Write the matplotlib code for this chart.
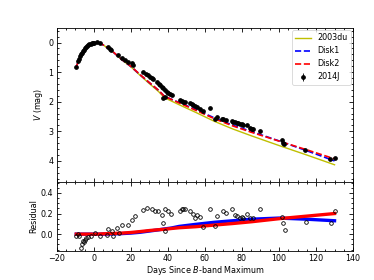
import matplotlib
matplotlib.use("Agg")
import matplotlib.pyplot as plt
from matplotlib.ticker import AutoMinorLocator, MultipleLocator

# ---- data ----
model_days = [-9.5, -8, -6, -4, -2, 0, 2, 5, 10, 15, 20, 25, 30, 35, 38, 42, 46, 55, 65, 75, 85, 100, 115, 130]
mag_2003du = [0.82, 0.58, 0.35, 0.17, 0.05, 0.0, 0.01, 0.08, 0.30, 0.58, 0.82, 1.11, 1.39, 1.66, 1.86, 1.98, 2.10,
              2.36, 2.66, 2.92, 3.15, 3.48, 3.80, 4.13]
mag_disk1 = [0.82, 0.58, 0.35, 0.17, 0.05, 0.0, 0.01, 0.08, 0.298, 0.575, 0.81, 1.092, 1.36, 1.618, 1.81, 1.92,
             2.025, 2.265, 2.545, 2.79, 3.005, 3.324, 3.655, 4.0]
mag_disk2 = [0.82, 0.58, 0.35, 0.17, 0.05, 0.0, 0.01, 0.077, 0.294, 0.57, 0.804, 1.085, 1.355, 1.617, 1.813, 1.925,
             2.038, 2.288, 2.572, 2.817, 3.03, 3.33, 3.625, 3.93]
res_disk1 = [0, 0, 0, 0, 0, 0, 0, 0.0, 0.002, 0.005, 0.01, 0.018, 0.03, 0.042, 0.05, 0.06, 0.075, 0.095, 0.115,
             0.13, 0.145, 0.156, 0.145, 0.13]
res_disk2 = [0, 0, 0, 0, 0, 0, 0, 0.003, 0.006, 0.01, 0.016, 0.025, 0.035, 0.043, 0.047, 0.055, 0.062, 0.072,
             0.088, 0.103, 0.12, 0.15, 0.175, 0.20]

obs_days = [-9.4, -8.6, -8.2, -7.6, -7.0, -6.6, -6.0, -5.4, -4.9, -4.3, -3.6, -3.1, -2.4, -1.8, -1.2, -0.5, 0.3, 1.5, 3.2,
            7.7, 8.6, 9.5, 13.1, 15.0, 17.0, 18.5, 20.4, 21.2, 26.6, 28.0, 29.4, 30.3, 31.2, 32.0, 33.9, 35.0, 35.7,
            36.6, 37.5, 38.4, 39.3, 40.2, 41.0, 42.0, 38.4, 37.5, 46.5, 47.4, 48.3, 49.2, 52.0, 52.8, 53.8, 54.6,
            55.5, 57.3, 58.8, 62.7, 65.4, 66.3, 69.0, 69.9, 71.4, 74.8, 75.3, 76.2, 77.1, 78.0, 78.9, 79.8, 80.7,
            82.5, 84.3, 85.2, 86.1, 89.7, 101.5, 102.3, 102.8, 114.0, 127.6, 130.3]
obs_mag = [0.82, 0.62, 0.55, 0.47, 0.40, 0.36, 0.30, 0.24, 0.20, 0.15, 0.11, 0.09, 0.06, 0.04, 0.03, 0.01, 0.00, -0.02, 0.03,
           0.15, 0.21, 0.25, 0.42, 0.52, 0.58, 0.65, 0.70, 0.76, 0.99, 1.05, 1.10, 1.15, 1.21, 1.24, 1.33, 1.40, 1.44,
           1.50, 1.55, 1.62, 1.66, 1.72, 1.75, 1.77, 1.85, 1.88, 1.94, 1.97, 2.00, 2.02, 2.04, 2.07, 2.10, 2.14,
           2.17, 2.26, 2.30, 2.22, 2.58, 2.50, 2.59, 2.58, 2.62, 2.66, 2.67, 2.70, 2.72, 2.73, 2.76, 2.76, 2.78,
           2.80, 2.90, 2.91, 2.93, 3.00, 3.28, 3.38, 3.44, 3.62, 3.93, 3.90]
obs_err = [0.02] * len(obs_days)

res_days = [-9.7, -8.5, -7.9, -7.2, -6.6, -5.8, -5.3, -4.9, -4.0, -3.1, -1.3, 0.5, 3.2, 6.9, 7.7, 9.6, 10.4, 12.3,
            13.7, 15.0, 18.5, 20.4, 22.2, 26.7, 28.5, 31.2, 33.0, 34.8, 36.6, 37.5, 38.4, 38.4, 40.2, 41.5, 46.5,
            47.4, 48.3, 49.2, 52.0, 53.8, 54.6, 55.5, 57.3, 58.8, 62.7, 65.4, 66.3, 69.5, 71.4, 74.8, 76.2, 77.1,
            78.9, 79.8, 80.7, 82.5, 84.3, 86.1, 89.7, 101.5, 102.3, 103.3, 114.6, 127.9, 130.3]
res_val = [-0.02, 0.00, -0.02, -0.13, -0.10, -0.07, -0.08, -0.06, -0.04, -0.03, -0.02, 0.01, -0.02, -0.01, 0.05, 0.03,
           -0.02, 0.06, 0.01, 0.09, 0.09, 0.14, 0.18, 0.23, 0.25, 0.24, 0.22, 0.22, 0.19, 0.11, 0.24, 0.03, 0.22,
           0.20, 0.22, 0.24, 0.24, 0.24, 0.22, 0.20, 0.16, 0.19, 0.17, 0.07, 0.24, 0.08, 0.18, 0.22, 0.21, 0.24,
           0.19, 0.18, 0.16, 0.17, 0.16, 0.20, 0.16, 0.16, 0.24, 0.17, 0.11, 0.04, 0.12, 0.11, 0.22]

# ---- figure ----
plt.rcParams['font.family'] = ['DejaVu Sans']
fs = 5.8
fig = plt.figure(figsize=(3.74, 2.80), dpi=100)
gs = fig.add_gridspec(2, 1, height_ratios=[154, 69], hspace=0,
                      left=0.152, right=0.944, top=0.901, bottom=0.105)
ax1 = fig.add_subplot(gs[0])
ax2 = fig.add_subplot(gs[1], sharex=ax1)

ax1.plot(model_days, mag_2003du, color='y', lw=1.0, label='2003du', zorder=2)
ax1.plot(model_days, mag_disk1, color='b', lw=1.2, ls='--', label='Disk1', zorder=3)
ax1.plot(model_days, mag_disk2, color='r', lw=1.2, ls='--', label='Disk2', zorder=4)
ax1.errorbar(obs_days, obs_mag, yerr=obs_err, fmt='o', color='k', ms=2.4,
             elinewidth=0.6, capsize=0, label='2014J', zorder=5)

ax1.set_xlim(-20, 140)
ax1.set_ylim(4.7, -0.5)
ax1.set_ylabel('$V$ (mag)', fontsize=fs, labelpad=2)
leg = ax1.legend(loc='upper right', fontsize=fs, frameon=True, fancybox=True,
                 borderaxespad=0.3, handlelength=1.9, handletextpad=0.8,
                 labelspacing=0.5, borderpad=0.4)
leg.get_frame().set_linewidth(0.6)

ax2.plot(model_days, res_disk1, color='b', lw=2.4, zorder=2)
ax2.plot(model_days, res_disk2, color='r', lw=2.4, zorder=3)
ax2.plot(res_days, res_val, 'o', mfc='none', mec='k', ms=2.6, mew=0.6, zorder=4)
ax2.set_ylim(-0.16, 0.51)
ax2.set_ylabel('Residual', fontsize=fs, labelpad=2)
ax2.set_xlabel('Days Since $B$-band Maximum', fontsize=fs, labelpad=0.5)

ax1.yaxis.set_major_locator(MultipleLocator(1))
ax2.yaxis.set_major_locator(MultipleLocator(0.2))
ax2.xaxis.set_major_locator(MultipleLocator(20))
for ax in (ax1, ax2):
    ax.xaxis.set_minor_locator(AutoMinorLocator(4))
    ax.yaxis.set_minor_locator(AutoMinorLocator(5 if ax is ax1 else 4))
    ax.tick_params(which='both', direction='in', top=True, right=True, labelsize=fs, width=0.6, pad=2.5)
    ax.tick_params(which='major', length=3)
    ax.tick_params(which='minor', length=1.6)
    for s in ax.spines.values():
        s.set_linewidth(0.6)
plt.setp(ax1.get_xticklabels(), visible=False)

fig.savefig('out.png', dpi=100)
